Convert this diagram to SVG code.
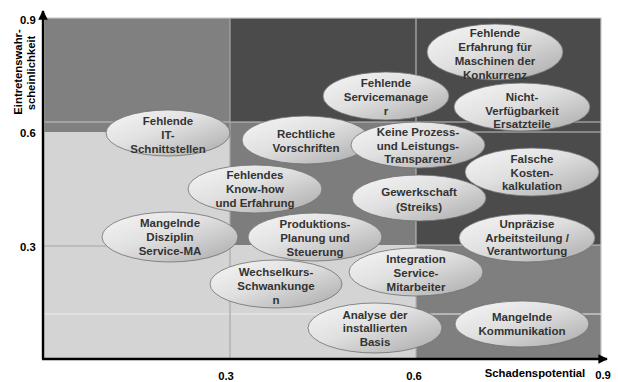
<svg xmlns="http://www.w3.org/2000/svg" width="618" height="382" viewBox="0 0 618 382">
<defs>
<linearGradient id="eg" x1="0" y1="0" x2="1" y2="1">
<stop offset="0" stop-color="#f6f6f6"/>
<stop offset="0.45" stop-color="#e0e0e0"/>
<stop offset="1" stop-color="#a9a9a9"/>
</linearGradient>
<marker id="arr" viewBox="0 0 10 10" refX="9" refY="5" markerWidth="4.5" markerHeight="4" orient="auto" markerUnits="strokeWidth">
<path d="M0,0 L10,5 L0,10 Z" fill="#000"/>
</marker>
<style>
.bub ellipse{fill:url(#eg);stroke:#6e6e6e;stroke-width:0.8}
.bub text{font-family:"Liberation Sans",Arial,sans-serif;font-weight:bold;font-size:11.5px;fill:#333;text-anchor:middle}
.ax{font-family:"Liberation Sans",Arial,sans-serif;font-weight:bold;font-size:11.3px;fill:#000}
.grid{stroke:#c4c4c4;stroke-width:1}
</style>
</defs>
<rect width="618" height="382" fill="#fff"/>
<g id="background">
<rect x="44" y="18" width="186" height="114" fill="#808080"/>
<rect x="230" y="18" width="186" height="104" fill="#4b4b4b"/>
<rect x="416" y="18" width="185" height="227" fill="#4b4b4b"/>
<rect x="230" y="122" width="186" height="123" fill="#7d7d7d"/>
<rect x="44" y="132" width="186" height="227" fill="#d4d4d4"/>
<rect x="230" y="245" width="186" height="114" fill="#d4d4d4"/>
<rect x="416" y="245" width="185" height="114" fill="#7f7f7f"/>
<rect x="44" y="18" width="557" height="341" fill="none" stroke="#c8c8c8" stroke-width="1.2"/>
<line class="grid" x1="44" y1="122" x2="601" y2="122"/>
<line class="grid" x1="416" y1="132" x2="601" y2="132"/>
<line x1="44" y1="246" x2="230" y2="246" stroke="#a4a4a4" stroke-width="1.2"/>
<line class="grid" x1="416" y1="245" x2="601" y2="245"/>
<line x1="44" y1="314" x2="601" y2="314" stroke="#ececec" stroke-width="1"/>
<line x1="230" y1="18" x2="230" y2="359" stroke="#a8a8a8" stroke-width="1.2"/>
<line x1="416" y1="18" x2="416" y2="359" stroke="#b4b4b4" stroke-width="1.2"/>
</g>
<g id="axes">
<line x1="43" y1="359" x2="43" y2="11" stroke="#000" stroke-width="2.4" marker-end="url(#arr)"/>
<line x1="42" y1="359" x2="607" y2="359" stroke="#000" stroke-width="2.4" marker-end="url(#arr)"/>
</g>
<g id="labels">
<text class="ax" x="20" y="24">0.9</text>
<text class="ax" x="20" y="137">0.6</text>
<text class="ax" x="20" y="251">0.3</text>
<text class="ax" x="226" y="380" text-anchor="middle">0.3</text>
<text class="ax" x="414" y="380" text-anchor="middle">0.6</text>
<text class="ax" x="603" y="379" text-anchor="middle">0.9</text>
<text class="ax" x="535" y="377" text-anchor="middle">Schadenspotential</text>
<text class="ax" transform="translate(22,72) rotate(-90)" text-anchor="middle">Eintretenswahr-</text>
<text class="ax" transform="translate(35,73) rotate(-90)" text-anchor="middle">scheinlichkeit</text>
</g>
<g id="n1" class="bub"><ellipse cx="168" cy="133" rx="62" ry="23"/><text x="168" y="125">Fehlende</text><text x="168" y="139">IT-</text><text x="168" y="153">Schnittstellen</text></g>
<g id="n2" class="bub"><ellipse cx="306" cy="140" rx="64" ry="24"/><text x="306" y="138">Rechtliche</text><text x="306" y="152">Vorschriften</text></g>
<g id="n3" class="bub"><ellipse cx="386" cy="96" rx="63" ry="24"/><text x="386" y="87">Fehlende</text><text x="386" y="101">Servicemanage</text><text x="386" y="115">r</text></g>
<g id="n4" class="bub"><ellipse cx="495" cy="52" rx="68" ry="28"/><text x="495" y="37">Fehlende</text><text x="495" y="51">Erfahrung für</text><text x="495" y="65">Maschinen der</text><text x="495" y="79">Konkurrenz</text></g>
<g id="n5" class="bub"><ellipse cx="522" cy="107" rx="68" ry="24"/><text x="522" y="101">Nicht-</text><text x="522" y="115">Verfügbarkeit</text><text x="522" y="128">Ersatzteile</text></g>
<g id="n6" class="bub"><ellipse cx="418" cy="145" rx="67" ry="23"/><text x="418" y="136">Keine Prozess-</text><text x="418" y="150">und Leistungs-</text><text x="418" y="163">Transparenz</text></g>
<g id="n7" class="bub"><ellipse cx="532" cy="172" rx="67" ry="24"/><text x="532" y="163">Falsche</text><text x="532" y="177">Kosten-</text><text x="532" y="190">kalkulation</text></g>
<g id="n8" class="bub"><ellipse cx="419" cy="198" rx="67" ry="23"/><text x="419" y="196">Gewerkschaft</text><text x="419" y="211">(Streiks)</text></g>
<g id="n9" class="bub"><ellipse cx="255" cy="189" rx="67" ry="24"/><text x="255" y="179">Fehlendes</text><text x="255" y="193">Know-how</text><text x="255" y="207">und Erfahrung</text></g>
<g id="n10" class="bub"><ellipse cx="170" cy="237" rx="68" ry="25"/><text x="170" y="227">Mangelnde</text><text x="170" y="241">Disziplin</text><text x="170" y="255">Service-MA</text></g>
<g id="n11" class="bub"><ellipse cx="315" cy="237" rx="67" ry="24"/><text x="315" y="228">Produktions-</text><text x="315" y="242">Planung und</text><text x="315" y="256">Steuerung</text></g>
<g id="n12" class="bub"><ellipse cx="527" cy="238" rx="68" ry="24"/><text x="527" y="228">Unpräzise</text><text x="527" y="242">Arbeitsteilung /</text><text x="527" y="255">Verantwortung</text></g>
<g id="n13" class="bub"><ellipse cx="276" cy="284" rx="66" ry="24"/><text x="276" y="276">Wechselkurs-</text><text x="276" y="290">Schwankunge</text><text x="276" y="304">n</text></g>
<g id="n14" class="bub"><ellipse cx="416" cy="272" rx="67" ry="24"/><text x="416" y="263">Integration</text><text x="416" y="277">Service-</text><text x="416" y="291">Mitarbeiter</text></g>
<g id="n15" class="bub"><ellipse cx="375" cy="328" rx="67" ry="25"/><text x="375" y="319">Analyse der</text><text x="375" y="332">installierten</text><text x="375" y="346">Basis</text></g>
<g id="n16" class="bub"><ellipse cx="522" cy="324" rx="67" ry="23"/><text x="522" y="321">Mangelnde</text><text x="522" y="335">Kommunikation</text></g>
</svg>
